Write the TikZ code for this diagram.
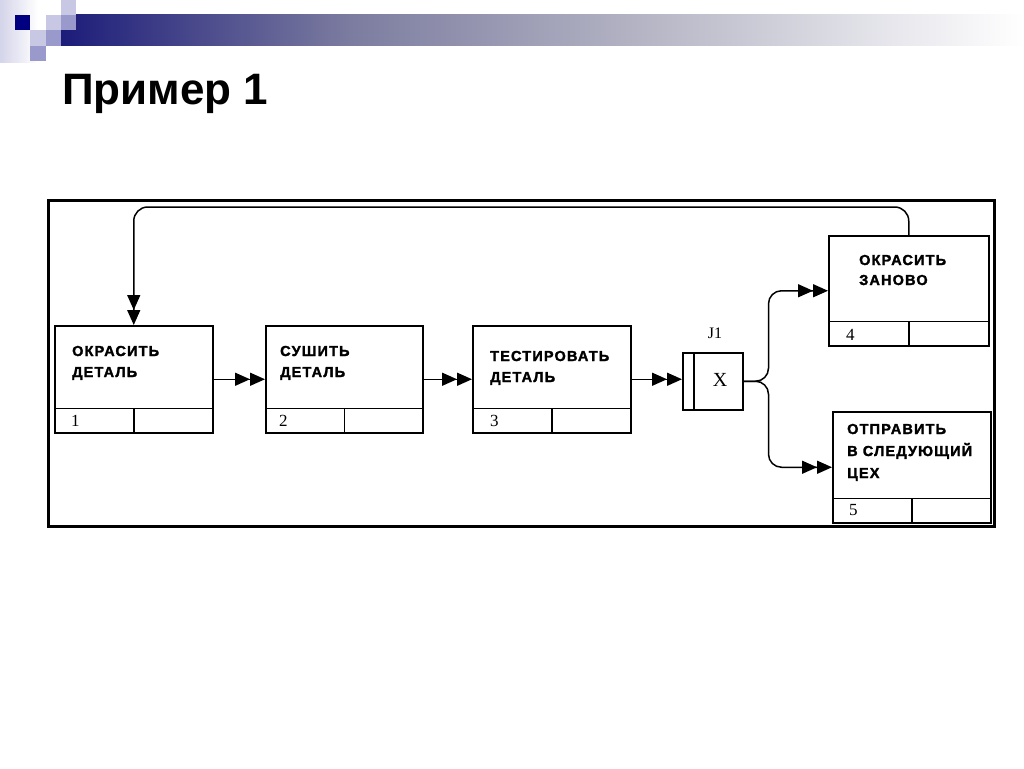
\documentclass[tikz,border=0pt]{standalone}
\usepackage{fontspec}
\setmainfont{Liberation Serif}
\newfontfamily\titlefont{Liberation Sans}
\newfontfamily\boxfont[LetterSpace=8,FakeBold=1.8]{Liberation Sans Bold}
\usetikzlibrary{arrows.meta}
\definecolor{hdA}{HTML}{1C1C7A}
\definecolor{hdB}{HTML}{7C7CA0}
\definecolor{hdC}{HTML}{B4B4C4}
\definecolor{hdD}{HTML}{E6E6EC}
\definecolor{sqNavy}{HTML}{000080}
\definecolor{sqLight}{HTML}{C8C8E4}
\definecolor{sqMid}{HTML}{9999CC}
\definecolor{lavL}{HTML}{D4D4EA}
\pgfdeclarehorizontalshading{hdrshade}{100bp}{color(0bp)=(hdA); color(25bp)=(hdA); color(40bp)=(hdB); color(55bp)=(hdC); color(68bp)=(hdD); color(75bp)=(white); color(100bp)=(white)}
\begin{document}
\begin{tikzpicture}[x=1pt,y=-1pt,
  proc/.style={draw,line width=1.5pt,rectangle,inner sep=0pt,anchor=north west},
  lbl/.style={anchor=base west,inner sep=0pt,font=\boxfont\fontsize{14.5}{16}\selectfont},
  num/.style={anchor=base west,inner sep=0pt,font=\fontsize{17}{18}\selectfont},
  link/.style={line width=1.5pt,-{Triangle[length=15pt,width=13pt]Triangle[length=15pt,width=13pt]}},
  cell/.style={line width=1.5pt}]
\useasboundingbox (0,0) rectangle (1024,768);
\fill[white] (0,0) rectangle (1024,768);
% header decoration
\shade[left color=lavL, right color=white, draw=none] (0,0) rectangle (38,62);
\shade[shading=hdrshade, draw=none] (61,15) rectangle (1024,46);
\fill[sqNavy] (15,15) rectangle (30,30);
\fill[sqLight] (61,0) rectangle (76,15);
\fill[sqLight] (46,15) rectangle (61,30);
\fill[sqMid] (61,15) rectangle (76,30);
\fill[sqLight] (30,30) rectangle (46,46);
\fill[sqMid] (46,30) rectangle (61,46);
\fill[sqMid] (30,46) rectangle (46,61);
% title
\node[anchor=base west,inner sep=0pt,font=\titlefont\bfseries\fontsize{44}{48}\selectfont] (title) at (62,104) {Пример 1};
% frame
\node[draw,line width=3pt,minimum width=946pt,minimum height=326pt,anchor=north west,inner sep=0pt] (frame) at (47,199) {};
% boxes
\node[proc,minimum width=158pt,minimum height=107pt] (b1) at (54,325) {};
\node[proc,minimum width=157pt,minimum height=107pt] (b2) at (265,325) {};
\node[proc,minimum width=158pt,minimum height=107pt] (b3) at (472,325) {};
\node[proc,minimum width=160pt,minimum height=110pt] (b4) at (828,235) {};
\node[proc,minimum width=158pt,minimum height=111pt] (b5) at (832,411) {};
\foreach \b in {b1,b2,b3,b4,b5}{
  \draw[cell] ([yshift=25pt]\b.south west) -- ([yshift=25pt]\b.south east);
  \draw[cell] ([yshift=25pt]\b.south) -- (\b.south);
}
% box texts
\node[lbl] (t1a) at (72,356) {ОКРАСИТЬ};
\node[lbl] (t1b) at (72,377) {ДЕТАЛЬ};
\node[lbl] (t2a) at (280,356) {СУШИТЬ};
\node[lbl] (t2b) at (280,377) {ДЕТАЛЬ};
\node[lbl] (t3a) at (490,361) {ТЕСТИРОВАТЬ};
\node[lbl] (t3b) at (490,382) {ДЕТАЛЬ};
\node[lbl] (t4a) at (859,265) {ОКРАСИТЬ};
\node[lbl] (t4b) at (859,285) {ЗАНОВО};
\node[lbl] (t5a) at (847,434) {ОТПРАВИТЬ};
\node[lbl] (t5b) at (847,456) {В СЛЕДУЮЩИЙ};
\node[lbl] (t5c) at (847,478) {ЦЕХ};
% numbers
\node[num] (n1) at (71,426) {1};
\node[num] (n2) at (279,426) {2};
\node[num] (n3) at (490,426) {3};
\node[num] (n4) at (846,340) {4};
\node[num] (n5) at (849,515) {5};
% junction
\node[draw,line width=1.5pt,minimum width=60pt,minimum height=57pt,anchor=north west,inner sep=0pt] (j1) at (682,352) {};
\draw[cell] ([xshift=12pt]j1.north west) -- ([xshift=12pt,yshift=2pt]j1.south west);
\node[inner sep=0pt,font=\fontsize{20}{20}\selectfont] (jx) at (720,380) {X};
\node[inner sep=0pt,font=\fontsize{16}{16}\selectfont] (jl) at (715,333) {J1};
% links
\draw[link] (b1.east) -- (b2.west);
\draw[link] (b2.east) -- (b3.west);
\draw[link] (b3.east) -- (b3.east -| j1.west);
\draw[link,rounded corners=13pt] (j1.east) -- ++(25,0) |- (b4.west);
\draw[link,rounded corners=13pt] (j1.east) -- ++(25,0) |- (b5.west);
\coordinate (fb) at (0,207);
\draw[link,rounded corners=14pt] (b4.north) -- (b4.north |- fb) -- (b1.north |- fb) -- (b1.north);
\end{tikzpicture}
\end{document}
